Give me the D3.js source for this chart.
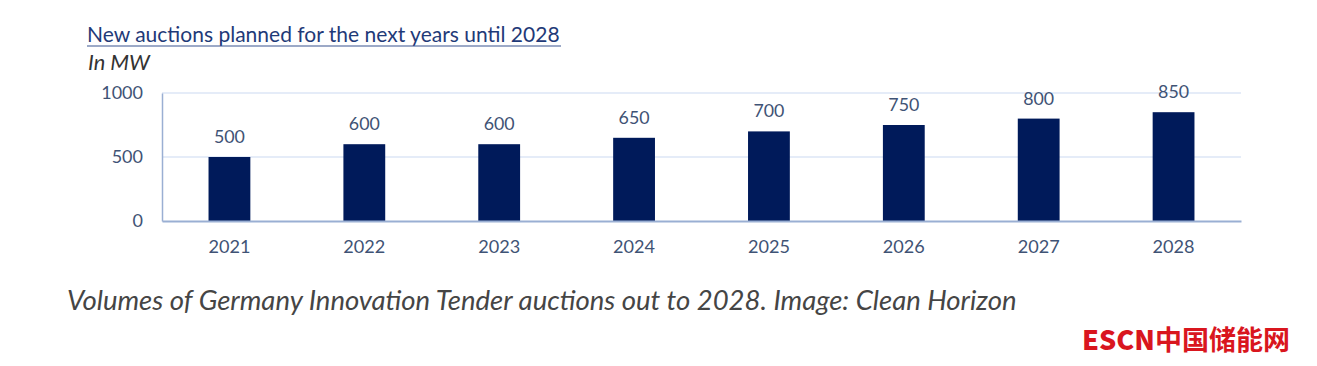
<!DOCTYPE html>
<html><head><meta charset="utf-8">
<script src="https://cdn.jsdelivr.net/npm/d3@7"></script>
<style>body{margin:0;background:#fff;} svg{display:block;}</style>
</head><body>
<svg id="c" width="1317" height="366"></svg>
<script>
const categories = ["2021","2022","2023","2024","2025","2026","2027","2028"];
const values = [500,600,600,650,700,750,800,850];
const yTicks = [0,500,1000];

const svg = d3.select("#c");
const margin = {left:162, right:1241, top:93, bottom:221};
const x = d3.scaleBand().domain(categories).range([margin.left, margin.right]).paddingInner(0.69).paddingOuter(0.345);
const y = d3.scaleLinear().domain([0,1000]).range([margin.bottom, margin.top]);
const font = "Lato, 'Open Sans', sans-serif";
const txtCol = "#3F5375";

function fit(sel, w){
  const n = sel.node(); const l = n.getComputedTextLength();
  const fs = parseFloat(sel.attr("font-size"));
  sel.attr("font-size", fs*w/l);
}

// gridlines
svg.append("g").selectAll("line").data(yTicks.filter(d=>d>0)).join("line")
  .attr("x1", margin.left).attr("x2", margin.right)
  .attr("y1", d=>y(d)).attr("y2", d=>y(d))
  .attr("stroke","#DCE6F6").attr("stroke-width",1.5);

// y axis
const yAxis = svg.append("g").attr("transform",`translate(${margin.left},0)`)
  .call(d3.axisLeft(y).tickValues(yTicks).tickFormat(d3.format("d")).tickSize(0).tickPadding(19));
yAxis.select(".domain").attr("stroke","#9AAFD3").attr("stroke-width",1.5);
yAxis.attr("font-size",null).attr("font-family",null);
yAxis.selectAll("text").attr("font-family",font).attr("font-size",18).attr("fill",txtCol);

// bars
svg.append("g").selectAll("rect").data(values).join("rect")
  .attr("x",(d,i)=>x(categories[i])).attr("width",x.bandwidth())
  .attr("y",d=>y(d)).attr("height",d=>y(0)-y(d))
  .attr("fill","#001A5A");

// x axis
const xAxis = svg.append("g").attr("transform",`translate(0,${margin.bottom})`)
  .call(d3.axisBottom(x).tickSize(0).tickPadding(19));
xAxis.select(".domain").attr("stroke","#9AAFD3").attr("stroke-width",2);
xAxis.attr("font-size",null).attr("font-family",null);
xAxis.selectAll("text").attr("font-family",font).attr("font-size",18).attr("fill",txtCol);
xAxis.selectAll("text").each(function(){ fit(d3.select(this), 42); });

// value labels
svg.append("g").selectAll("text").data(values).join("text")
  .attr("x",(d,i)=>x(categories[i])+x.bandwidth()/2)
  .attr("y",d=>y(d)-14)
  .attr("text-anchor","middle")
  .attr("font-family",font).attr("font-size",18).attr("fill",txtCol)
  .text(d=>d)
  .each(function(){ fit(d3.select(this), 31); });

// title
const t = svg.append("text").attr("x",87).attr("y",42)
  .attr("font-family",font).attr("font-size",18).attr("fill","#1F3A78")
  .text("New auctions planned for the next years until 2028");
fit(t, 473);
svg.append("line").attr("x1",87).attr("x2",561).attr("y1",46).attr("y2",46)
  .attr("stroke","#3A5590").attr("stroke-width",1.2);

const u = svg.append("text").attr("x",88).attr("y",70)
  .attr("font-family",font).attr("font-size",18).attr("font-style","italic").attr("fill","#333")
  .text("In MW");
fit(u, 62);

// caption
const c = svg.append("text").attr("x",67).attr("y",310)
  .attr("font-family",font).attr("font-size",20).attr("font-style","italic").attr("fill","#454545")
  .text("Volumes of Germany Innovation Tender auctions out to 2028. Image: Clean Horizon");
fit(c, 950);

// logo
const lg = svg.append("text").attr("x",1082).attr("y",350)
  .attr("font-family","'Noto Sans CJK SC', sans-serif").attr("font-size",26).attr("font-weight",900).attr("fill","#D9161E");
lg.append("tspan").text("ESCN");
lg.append("tspan").attr("font-weight",700).text("中国储能网");
fit(lg, 208);
</script>
</body></html>
